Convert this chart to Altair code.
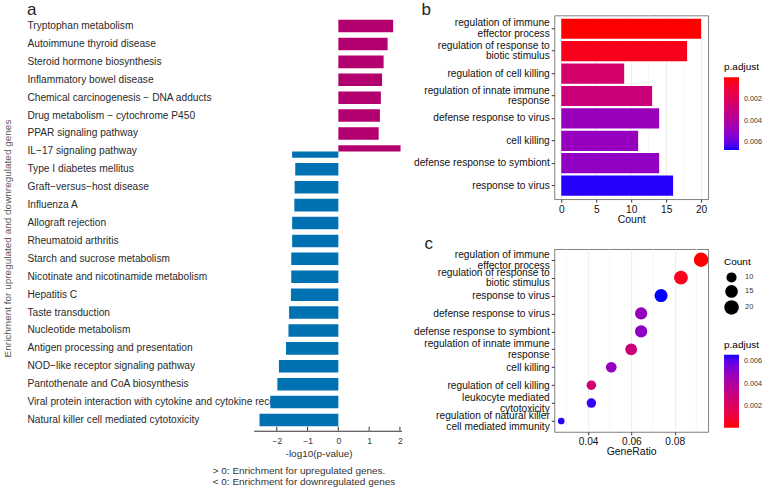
import altair as alt
import pandas as pd

FONT = "Liberation Sans"
PINK = "#B2006F"
BLUE = "#0072B2"

# ---------------- panel a: KEGG pathways, signed -log10(p) ----------------
kegg_terms = [
    "Tryptophan metabolism",
    "Autoimmune thyroid disease",
    "Steroid hormone biosynthesis",
    "Inflammatory bowel disease",
    "Chemical carcinogenesis − DNA adducts",
    "Drug metabolism − cytochrome P450",
    "PPAR signaling pathway",
    "IL−17 signaling pathway",
    "IL−17 signaling pathway",
    "Type I diabetes mellitus",
    "Graft−versus−host disease",
    "Influenza A",
    "Allograft rejection",
    "Rheumatoid arthritis",
    "Starch and sucrose metabolism",
    "Nicotinate and nicotinamide metabolism",
    "Hepatitis C",
    "Taste transduction",
    "Nucleotide metabolism",
    "Antigen processing and presentation",
    "NOD−like receptor signaling pathway",
    "Pantothenate and CoA biosynthesis",
    "Viral protein interaction with cytokine and cytokine receptor",
    "Natural killer cell mediated cytotoxicity",
]
kegg_logp = [1.78, 1.60, 1.47, 1.42, 1.38, 1.35, 1.31, 2.02, -1.50, -1.40,
             -1.42, -1.43, -1.50, -1.50, -1.53, -1.53, -1.54, -1.60, -1.62,
             -1.70, -1.93, -1.98, -2.21, -2.56]
kegg_ticks = [-2, -1, 0, 1, 2]
kegg_notes = ["> 0: Enrichment for upregulated genes.",
              "< 0: Enrichment for downregulated genes"]

# ---------------- panels b/c: GO biological process ----------------
go_bar_terms = [
    "regulation of immune effector process",
    "regulation of response to biotic stimulus",
    "regulation of cell killing",
    "regulation of innate immune response",
    "defense response to virus",
    "cell killing",
    "defense response to symbiont",
    "response to virus",
]
go_bar_counts = [20, 18, 9, 13, 14, 11, 14, 16]
go_bar_padj = [0.00003, 0.0004, 0.0025, 0.0029, 0.0048, 0.0049, 0.0050, 0.0066]

go_dot_terms = [
    "regulation of immune effector process",
    "regulation of response to biotic stimulus",
    "response to virus",
    "defense response to virus",
    "defense response to symbiont",
    "regulation of innate immune response",
    "cell killing",
    "regulation of cell killing",
    "leukocyte mediated cytotoxicity",
    "regulation of natural killer cell mediated immunity",
]
go_dot_ratio = [0.0922, 0.0829, 0.0737, 0.0645, 0.0645, 0.0599, 0.0507, 0.0415, 0.0415, 0.0276]
go_dot_counts = [20, 18, 16, 14, 14, 13, 11, 9, 9, 6]
go_dot_padj = [0.00003, 0.0004, 0.0066, 0.0048, 0.0050, 0.0029, 0.0049, 0.0025, 0.0064, 0.0065]

# wrapped axis labels for long GO terms
wrapped = {
    "regulation of immune effector process": "regulation of immune\neffector process",
    "regulation of response to biotic stimulus": "regulation of response to\nbiotic stimulus",
    "regulation of innate immune response": "regulation of innate immune\nresponse",
    "leukocyte mediated cytotoxicity": "leukocyte mediated\ncytotoxicity",
    "regulation of natural killer cell mediated immunity": "regulation of natural killer\ncell mediated immunity",
}

LINE_H = 10.7
SPLIT = "split(datum.label, '\\n')"
# two-line labels are shifted up half a line so the block is centred on its tick
CENTER_WRAPPED = {"condition": {"test": "indexof(datum.value, '\\n') >= 0",
                                "value": -LINE_H / 2},
                  "value": 0}

# ======================= panel a =======================
W_A, H_A = 148, 416
a_df = pd.DataFrame({"term": kegg_terms, "logp": kegg_logp})
a_df["direction"] = ["up" if v > 0 else "down" for v in a_df["logp"]]
a_order = list(dict.fromkeys(kegg_terms))

x_a = alt.X(
    "logp:Q",
    scale=alt.Scale(domain=[-2.75, 2.05], nice=False),
    axis=alt.Axis(values=kegg_ticks, format="d", grid=False, ticks=False, tickSize=0,
                  domainColor="#333333", domain=True, labelFontSize=8.5, labelColor="#333333",
                  labelPadding=6, title="-log10(p-value)", titleFontSize=10,
                  titleFontWeight="normal", titleColor="#333333", titlePadding=3,
                  titleX=65, titleAlign="center"),
)
y_a = alt.Y(
    "term:N", sort=a_order,
    scale=alt.Scale(paddingInner=0.3, paddingOuter=0.25),
    axis=alt.Axis(title="Enrichment for upregulated and downregulated genes",
                  labelAlign="left", labelPadding=227, ticks=False, tickSize=0,
                  domain=False, labelFontSize=10.2, labelColor="#2A2A2A",
                  labelLimit=320, labelOverlap=False, titleFontSize=10,
                  titleFontWeight="normal", titleColor="#555555",
                  titleX=-246, titleY=223, titleAlign="center", titleBaseline="middle"),
)
color_a = alt.Color("direction:N", scale=alt.Scale(domain=["up", "down"], range=[PINK, BLUE]),
                    legend=None)

a_base = alt.Chart(a_df).transform_joinaggregate(n="count()", groupby=["term"])
a_single = a_base.transform_filter("datum.n == 1").mark_bar().encode(
    x=x_a, x2=alt.datum(0), y=y_a, color=color_a)
a_dodged = a_base.transform_filter("datum.n > 1").mark_bar().encode(
    x=x_a, x2=alt.datum(0), y=y_a, color=color_a,
    yOffset=alt.YOffset("direction:N", sort=["up", "down"],
                        scale=alt.Scale(paddingInner=0, paddingOuter=0)))
a_tickmarks = alt.Chart(pd.DataFrame({"logp": kegg_ticks})).mark_rule(
    color="#333333", strokeWidth=1).encode(
    x=x_a, y=alt.value(H_A - 4), y2=alt.value(H_A))
a_note1 = alt.Chart(pd.DataFrame({"note": [kegg_notes[0]]})).mark_text(
    align="left", baseline="middle", fontSize=10, color="#333333", font=FONT).encode(
    text="note:N", x=alt.value(-41), y=alt.value(456))
a_note2 = alt.Chart(pd.DataFrame({"note": [kegg_notes[1]]})).mark_text(
    align="left", baseline="middle", fontSize=10, color="#333333", font=FONT).encode(
    text="note:N", x=alt.value(-41), y=alt.value(467.5))

panel_a = alt.layer(a_single, a_dodged, a_tickmarks, a_note1, a_note2).properties(
    width=W_A, height=H_A,
    title=alt.TitleParams("a", anchor="start", frame="group", dx=-227, fontSize=17,
                          fontWeight="normal", font=FONT, color="#222222", offset=-4),
    view=alt.ViewBackground(stroke="transparent"),
)

# ======================= panel b =======================
W_R = 154
b_df = pd.DataFrame({"term": go_bar_terms, "count": go_bar_counts, "padj": go_bar_padj})
b_df["label"] = [wrapped.get(t, t) for t in go_bar_terms]
b_minor = [2.5, 7.5, 12.5, 17.5]

x_b = alt.X("count:Q", scale=alt.Scale(domain=[-1, 21], nice=False, zero=False),
            axis=alt.Axis(values=[0, 5, 10, 15, 20], title="Count"))
y_b = alt.Y("label:N", sort=list(b_df["label"]),
            scale=alt.Scale(paddingInner=0.1, paddingOuter=0.15),
            axis=alt.Axis(title=None, labelExpr=SPLIT, labelLineHeight=LINE_H,
                          labelOffset=CENTER_WRAPPED))

GRAD_LEGEND = dict(title="p.adjust", orient="none", legendX=170,
                   gradientLength=73, gradientThickness=15,
                   values=[0.002, 0.004, 0.006], format=".3f",
                   labelFontSize=7.2, labelColor="#333333", labelOffset=5,
                   titleFontSize=10, titleFontWeight="normal",
                   titlePadding=5, gradientStrokeWidth=0, padding=0,
                   direction="vertical")

b_grid = alt.Chart(pd.DataFrame({"count": b_minor})).mark_rule(
    color="#F2F2F2", strokeWidth=0.6).encode(x=x_b)
b_bars = alt.Chart(b_df).mark_bar().encode(
    x=x_b, x2=alt.datum(0), y=y_b,
    color=alt.Color("padj:Q",
                    # low p.adjust (red) is listed last so it sits at the top of the bar
                    scale=alt.Scale(domain=[0.0067, 0.00003], range=["blue", "red"],
                                    interpolate="lab"),
                    legend=alt.Legend(legendY=47, **GRAD_LEGEND)),
)
panel_b = alt.layer(b_grid, b_bars).properties(
    width=W_R, height=184,
    title=alt.TitleParams("b", anchor="start", frame="group", dx=-133, fontSize=17,
                          fontWeight="normal", font=FONT, color="#222222", offset=-4),
    view=alt.ViewBackground(stroke="#7F7F7F", strokeWidth=1),
)

# ======================= panel c =======================
c_df = pd.DataFrame({"term": go_dot_terms, "ratio": go_dot_ratio,
                     "count": go_dot_counts, "padj": go_dot_padj})
c_df["label"] = [wrapped.get(t, t) for t in go_dot_terms]
c_minor = [0.03, 0.05, 0.07, 0.09]

x_c = alt.X("ratio:Q", scale=alt.Scale(domain=[0.02437, 0.09543], nice=False, zero=False),
            axis=alt.Axis(values=[0.04, 0.06, 0.08], format=".2f", title="GeneRatio"))
y_c = alt.Y("label:N", sort=list(c_df["label"]), scale=alt.Scale(padding=0.6),
            axis=alt.Axis(title=None, labelExpr=SPLIT, labelLineHeight=LINE_H,
                          labelOffset=CENTER_WRAPPED))

c_grid = alt.Chart(pd.DataFrame({"ratio": c_minor})).mark_rule(
    color="#F2F2F2", strokeWidth=0.6).encode(x=x_c)
c_dots = alt.Chart(c_df).mark_circle(opacity=1).encode(
    x=x_c, y=y_c,
    size=alt.Size("count:Q",
                  scale=alt.Scale(type="sqrt", domain=[6, 20], range=[45, 210], zero=False),
                  legend=alt.Legend(title="Count", values=[10, 15, 20], orient="none",
                                    legendX=170, legendY=8, symbolFillColor="black",
                                    symbolStrokeWidth=0, symbolType="circle",
                                    labelFontSize=7.5, labelColor="#333333", labelOffset=6,
                                    titleFontSize=10, titleFontWeight="normal",
                                    titlePadding=5, rowPadding=2, padding=0)),
    color=alt.Color("padj:Q",
                    scale=alt.Scale(domain=[0.00001, 0.0066], range=["red", "blue"],
                                    interpolate="lab"),
                    legend=alt.Legend(legendY=91, **GRAD_LEGEND)),
)
panel_c = alt.layer(c_grid, c_dots).properties(
    width=W_R, height=183,
    title=alt.TitleParams("c", anchor="start", frame="group", dx=-130, fontSize=17,
                          fontWeight="normal", font=FONT, color="#222222", offset=-4),
    view=alt.ViewBackground(stroke="#7F7F7F", strokeWidth=1),
)

right = alt.vconcat(panel_b, panel_c, spacing=8).resolve_scale(
    color="independent", x="independent", y="independent", size="independent"
).resolve_legend(color="independent", size="independent")

chart = alt.hconcat(panel_a, right, spacing=9).resolve_scale(
    color="independent", x="independent", y="independent"
).resolve_legend(color="independent").properties(
    padding={"left": 2, "top": 0, "right": 0, "bottom": 0}
).configure(font=FONT).configure_axis(
    labelFont=FONT, titleFont=FONT, labelFontSize=10.2, labelColor="#111111",
    titleFontSize=10.5, titleFontWeight="normal", titleColor="#111111",
    tickColor="#333333", tickSize=3, labelPadding=2, domain=False,
    gridColor="#EBEBEB", gridWidth=1, titlePadding=0,
).configure_legend(labelFont=FONT, titleFont=FONT)

chart.save("out.html", embed_options={"renderer": "svg", "actions": False})
